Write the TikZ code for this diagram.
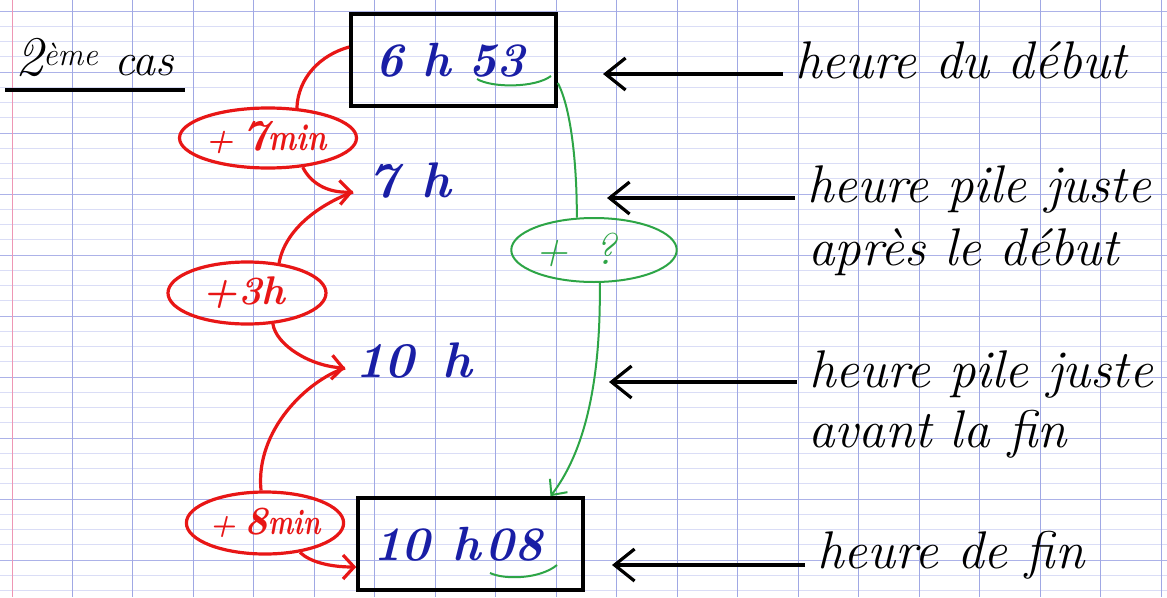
\documentclass[tikz,border=0pt]{standalone}
\usepackage{fontspec}
\usetikzlibrary{arrows.meta,shapes.geometric}
\definecolor{blueink}{RGB}{25,30,165}
\definecolor{redink}{RGB}{232,22,22}
\definecolor{greenink}{RGB}{45,165,70}
\definecolor{gridv}{RGB}{160,168,228}
\definecolor{gridmaj}{RGB}{172,178,232}
\definecolor{gridmin}{RGB}{218,221,246}
\definecolor{marginred}{RGB}{238,150,180}
\begin{document}
\begin{tikzpicture}[x=1pt,y=-1pt,
  gridmajor/.style={draw=gridmaj,line width=1pt},
  gridminor/.style={draw=gridmin,line width=0.8pt},
  gridvert/.style={draw=gridv,line width=1pt},
  timebox/.style={draw=black,line width=3.6pt,inner sep=0pt,text=blueink,font=\fontsize{48}{54}\selectfont\bfseries\itshape},
  redell/.style={ellipse,draw=redink,line width=3.2pt,inner sep=0pt,text=redink,font=\bfseries\itshape},
  greenell/.style={ellipse,draw=greenink,line width=2pt,inner sep=0pt,text=greenink,font=\itshape},
  redlink/.style={draw=redink,line width=3.2pt},
  redarrow/.style={redlink,-{Straight Barb[length=11pt,width=24pt]}},
  greenlink/.style={draw=greenink,line width=2pt},
  greenarrow/.style={greenlink,-{Straight Barb[length=12pt,width=22pt]}},
  blkarrow/.style={draw=black,line width=3.2pt,-{Straight Barb[length=20pt,width=32pt]}},
  notetext/.style={anchor=base west,inner xsep=12pt,inner ysep=0pt,font=\fontsize{53}{60}\selectfont\itshape},
  clock/.style={anchor=base west,inner ysep=0pt,text=blueink,font=\fontsize{50}{56}\selectfont\bfseries\itshape}
]
\useasboundingbox (0,0) rectangle (1167,597);
\fill[white] (0,0) rectangle (1167,597);
% Seyes grid
\foreach \k in {0,...,38} {
  \pgfmathsetmacro\yy{11+15.25*\k}
  \pgfmathtruncatemacro\mm{mod(\k,4)}
  \ifnum\mm=0 \draw[gridmajor] (0,\yy) -- (1167,\yy); \else \draw[gridminor] (0,\yy) -- (1167,\yy); \fi
}
\foreach \k in {0,...,18} {
  \draw[gridvert] ({72+60.5*\k},0) -- ({72+60.5*\k},597);
}
\draw[draw=marginred,line width=1pt] (12,0) -- (12,597);

% title
\node[anchor=base west,inner xsep=10pt,inner ysep=0pt,font=\fontsize{46}{50}\selectfont\itshape] (title) at (5,75) {{\fontsize{56}{56}\selectfont 2}\textsuperscript{ème} cas};
\draw[line width=3.6pt] ([yshift=-15pt]title.base west) -- ([yshift=-15pt]title.base east);

% boxes
\node[timebox,minimum width=205pt,minimum height=92pt] (b1) at (453.5,60) {{\spaceskip=18pt 6 h 53}\hspace*{6pt}};
\node[timebox,minimum width=225pt,minimum height=92pt] (b2) at (470.5,544) {{\spaceskip=22pt 10 h}\hspace{5pt}08\hspace*{25pt}};

% intermediate times
\node[clock,inner xsep=15pt] (t7) at (353,197) {{\spaceskip=24pt 7 h}};
\node[clock,inner xsep=10pt] (t10) at (345,377) {{\spaceskip=28pt 10 h}};

% red ellipses
\node[redell,minimum width=146pt,minimum height=60pt] (e1) at (268,138) {\fontsize{32}{32}\selectfont +\hspace{9pt}{\fontsize{44}{44}\selectfont 7}\scalebox{0.78}[1]{\fontsize{38}{38}\selectfont min}\hspace*{4pt}};
\node[redell,minimum width=158pt,minimum height=62pt] (e2) at (247,293) {\fontsize{40}{40}\selectfont +3h\hspace*{6pt}};
\node[redell,minimum width=136pt,minimum height=62pt] (e3) at (265,523) {\fontsize{30}{30}\selectfont +\hspace{9pt}{\fontsize{40}{40}\selectfont 8}\scalebox{0.74}[1]{\fontsize{36}{36}\selectfont min}};

% green ellipse
\node[greenell,minimum width=138pt,minimum height=64pt] (eg) at (594,250) {\fontsize{44}{44}\selectfont{\spaceskip=26pt + ?}\hspace*{36pt}};

% red connectors
\draw[redlink] ([yshift=13pt]b1.west) .. controls (320,55) and (298,78) .. (e1.46);
\draw[redarrow] (e1.-40) .. controls (310,182) and (326,193) .. ([yshift=5pt]t7.base west);
\draw[redlink] ([yshift=5pt]t7.base west) .. controls (318,205) and (285,230) .. (e2.43);
\draw[redarrow] (e2.-50) .. controls (276,345) and (310,366) .. ([yshift=9pt]t10.base west);
\draw[redlink] ([yshift=9pt]t10.base west) .. controls (308,380) and (255,430) .. (e3.97);
\draw[redarrow] (e3.-40) .. controls (310,562) and (330,567) .. ([yshift=-23pt]b2.west);

% green marks and connectors
\draw[greenlink] (477,79) .. controls (492,88) and (535,88) .. (551,76);
\draw[greenlink] (490,573) .. controls (505,580) and (540,579) .. (557,565);
\draw[greenlink] ([yshift=-23pt]b1.east) .. controls (572,110) and (577,170) .. (eg.118);
\draw[greenarrow] (eg.-80) .. controls (601,390) and (582,455) .. ([xshift=80pt]b2.north);

% right labels
\coordinate (p1) at (603,74);
\node[notetext] (l1) at (783,78) {heure du début};
\draw[blkarrow] (p1 -| l1.west) -- (p1);

\coordinate (p2) at (607,198);
\node[notetext] (l2) at (795,202) {heure pile juste};
\node[notetext] (l2b) at (796,265) {après le début};
\draw[blkarrow] (p2 -| l2.west) -- (p2);

\coordinate (p3) at (609,382);
\node[notetext] (l3) at (797,387) {heure pile juste};
\node[notetext] (l3b) at (796,447) {avant la fin};
\draw[blkarrow] (p3 -| l3.west) -- (p3);

\coordinate (p4) at (612,565);
\node[notetext] (l4) at (805,568) {heure de fin};
\draw[blkarrow] (p4 -| l4.west) -- (p4);
\end{tikzpicture}
\end{document}
